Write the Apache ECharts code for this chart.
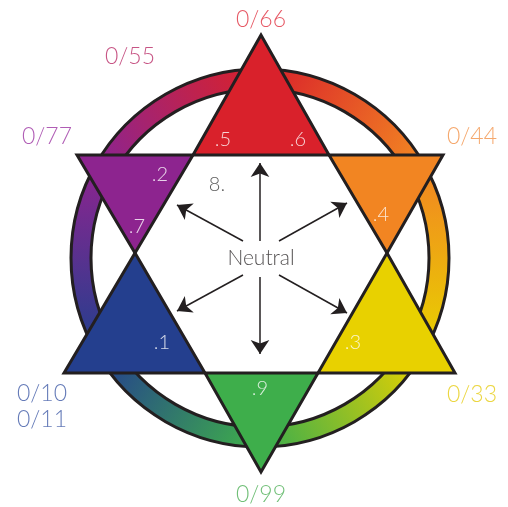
<!DOCTYPE html>
<html>
<head>
<meta charset="utf-8">
<script src="https://cdn.jsdelivr.net/npm/echarts@6/dist/echarts.min.js"></script>
<style>
html, body { margin: 0; padding: 0; background: #fff; }
#main { width: 508px; height: 507px; }
</style>
</head>
<body>
<div id="main"></div>
<script>
// star points, in picture units (y goes down)
var triNames = ['red', 'orange', 'yellow', 'green', 'blue', 'purple'];
var triColors = ['#d9212b', '#f28522', '#e8d100', '#3eae4b', '#243f8e', '#8d248f'];
var triPoints = [
    [[261, 35], [193, 155], [329, 155]],
    [[329, 155], [443, 155], [387, 253]],
    [[387, 253], [455, 373], [318, 373]],
    [[318, 373], [261, 472], [205, 373]],
    [[205, 373], [64, 373], [135, 253]],
    [[135, 253], [77, 155], [193, 155]]
];

// colour wheel ring: where each colour sits (deg, clockwise from 3 o'clock)
var ringAngles = [-90, -30, 30, 90, 150, 210];
var ringCenter = [260, 258];
var ringRadius = [169, 189];

// arrows out of "Neutral"
var arrowFrom = [[260, 241], [260, 277], [243, 241], [279, 241], [243, 275], [279, 275]];
var arrowTo = [[260, 163], [260, 354], [177, 205], [347, 203], [177, 311], [347, 313]];

// labels round the outside
var outerLabels = ['0/66', '0/55', '0/77', '0/44', '0/33', '0/99', '0/10', '0/11'];
var outerPos = [[261, 20], [130, 57], [47, 137], [472, 137], [472, 395], [261, 495], [42, 394], [42, 420]];
var outerColors = ['#e0303f', '#b92a66', '#9c35a2', '#f39248', '#e6cc12', '#4caf55', '#3f5aa6', '#3f5aa6'];

// labels inside the star
var innerLabels = ['.5', '.6', '.2', '.7', '.4', '.1', '.3', '.9'];
var innerPos = [[223, 140], [298, 140], [160, 175], [137, 227], [381, 215], [162, 343], [353, 343], [260, 389]];

var myChart = echarts.init(document.getElementById('main'));

var font = 'Lato';

function ringItem(params, api) {
    var i = params.dataIndex;
    var c = api.coord(ringCenter);
    var r0 = api.size([ringRadius[0], 0])[0];
    var r1 = api.size([ringRadius[1], 0])[0];
    var a0 = ringAngles[i] * Math.PI / 180;
    var a1 = (ringAngles[i] + 60) * Math.PI / 180;
    var rm = (r0 + r1) / 2;
    var grad = new echarts.graphic.LinearGradient(
        c[0] + rm * Math.cos(a0), c[1] + rm * Math.sin(a0),
        c[0] + rm * Math.cos(a1), c[1] + rm * Math.sin(a1),
        [{ offset: 0, color: triColors[i] }, { offset: 1, color: triColors[(i + 1) % 6] }],
        true
    );
    var pad = 0.01;
    return {
        type: 'group',
        children: [{
            type: 'sector',
            shape: { cx: c[0], cy: c[1], r0: r0, r: r1, startAngle: a0 - pad, endAngle: a1 + pad },
            style: { fill: grad }
        }, {
            type: 'arc',
            shape: { cx: c[0], cy: c[1], r: r1, startAngle: a0 - pad, endAngle: a1 + pad },
            style: { fill: null, stroke: '#231f20', lineWidth: 3 }
        }, {
            type: 'arc',
            shape: { cx: c[0], cy: c[1], r: r0, startAngle: a0 - pad, endAngle: a1 + pad },
            style: { fill: null, stroke: '#231f20', lineWidth: 3 }
        }]
    };
}

function triItem(params, api) {
    var pts = triPoints[params.dataIndex].map(function (p) { return api.coord(p); });
    return {
        type: 'polygon',
        shape: { points: pts },
        style: {
            fill: triColors[params.dataIndex],
            stroke: '#231f20',
            lineWidth: 3,
            lineJoin: 'miter'
        }
    };
}

option = {
    animation: false,
    grid: { left: 0, right: 0, top: 0, bottom: 0 },
    xAxis: { type: 'value', min: 0, max: 508, show: false },
    yAxis: { type: 'value', min: 0, max: 507, inverse: true, show: false },
    series: [
        {
            type: 'custom',
            renderItem: ringItem,
            data: ringAngles.map(function () { return ringCenter; }),
            z: 1
        },
        {
            type: 'custom',
            renderItem: triItem,
            data: triNames.map(function (n, i) { return { name: n, value: triPoints[i][0] }; }),
            z: 2
        },
        {
            type: 'lines',
            coordinateSystem: 'cartesian2d',
            symbol: ['none', 'arrow'],
            symbolSize: [10, 14],
            lineStyle: { color: '#231f20', width: 1.5, opacity: 1, curveness: 0 },
            data: arrowFrom.map(function (p, i) { return { coords: [p, arrowTo[i]] }; }),
            z: 3
        },
        {
            type: 'scatter',
            symbolSize: 0,
            silent: true,
            z: 4,
            label: {
                show: true,
                position: 'inside',
                fontFamily: font,
                fontWeight: 300,
                fontSize: 23,
                formatter: '{b}'
            },
            data: outerLabels.map(function (t, i) {
                return { name: t, value: outerPos[i], label: { color: outerColors[i] } };
            })
        },
        {
            type: 'scatter',
            symbolSize: 0,
            silent: true,
            z: 4,
            label: {
                show: true,
                position: 'inside',
                fontFamily: font,
                fontWeight: 300,
                fontSize: 20,
                color: '#ffffff',
                formatter: '{b}'
            },
            data: innerLabels.map(function (t, i) {
                return { name: t, value: innerPos[i] };
            }).concat([
                { name: '8.', value: [217, 185], label: { color: '#333' } },
                { name: 'Neutral', value: [261, 258], label: { color: '#231f20', fontSize: 21 } }
            ])
        }
    ]
};
myChart.setOption(option);
</script>
</body>
</html>
